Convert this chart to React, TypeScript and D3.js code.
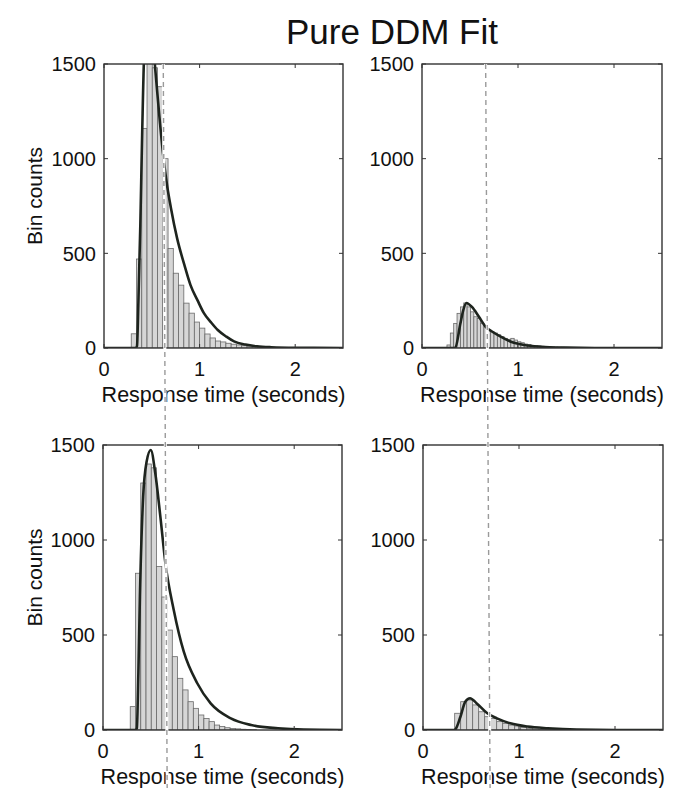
import React from 'react';
import * as d3 from 'd3';

const TITLE = 'Pure DDM Fit';
const X_TICKS = [0, 1, 2];
const Y_TICKS = [0, 500, 1000, 1500];
const X_LABEL = 'Response time (seconds)';
const Y_LABEL = 'Bin counts';
const X_DOMAIN = [0, 2.5];
const Y_DOMAIN = [0, 1500];

// Histogram bins (start, width) and counts per panel
const TL_BIN = { start: 0.285, width: 0.055 };
const TL_COUNTS = [75, 470, 1160, 1600, 1480, 1380, 1000, 526, 395, 332, 237, 184, 137, 105, 74, 53, 37, 32, 25, 20, 16, 12, 9, 7, 5, 4, 3, 2];
const BL_BIN = { start: 0.285, width: 0.055 };
const BL_COUNTS = [123, 825, 1300, 1400, 1380, 860, 700, 526, 386, 272, 211, 149, 114, 79, 61, 44, 26, 18, 12, 8, 6, 4, 3, 2];
const TR_BIN = { start: 0.26, width: 0.035 };
const TR_COUNTS = [16, 79, 130, 183, 217, 238, 217, 191, 165, 156, 130, 120, 95, 86, 79, 70, 60, 51, 46, 51, 42, 33, 28, 21, 18, 14, 12, 11, 9, 8, 6, 6, 5, 4, 4, 3, 3, 2, 2, 2, 1];
const BR_BIN = { start: 0.33, width: 0.0625 };
const BR_COUNTS = [88, 149, 158, 132, 96, 70, 61, 44, 35, 26, 21, 14, 9, 6, 4, 3, 2, 1];

// Fitted DDM curves: time (s) and counts
const TL_FIT_T = [0, 0.33, 0.345, 0.36, 0.38, 0.4, 0.42, 0.45, 0.48, 0.51, 0.54, 0.58, 0.62, 0.66, 0.7, 0.765, 0.84, 0.905, 0.98, 1.045, 1.12, 1.19, 1.28, 1.36, 1.48, 1.6, 1.75, 2.0, 2.5];
const TL_FIT_Y = [0, 0, 10, 250, 650, 1150, 1550, 1720, 1700, 1620, 1450, 1220, 1015, 858, 740, 579, 440, 332, 250, 184, 135, 95, 60, 35, 18, 9, 4, 1, 0];
const BL_FIT_T = [0, 0.34, 0.354, 0.37, 0.386, 0.42, 0.456, 0.5, 0.547, 0.6, 0.653, 0.74, 0.845, 0.986, 1.126, 1.337, 1.55, 1.83, 2.1, 2.5];
const BL_FIT_Y = [0, 0, 10, 300, 702, 1228, 1412, 1474, 1351, 1123, 877, 632, 412, 246, 140, 61, 26, 9, 2, 0];
const TR_FIT_T = [0, 0.33, 0.347, 0.4, 0.43, 0.463, 0.52, 0.593, 0.663, 0.733, 0.82, 0.926, 1.066, 1.24, 1.5, 1.8, 2.5];
const TR_FIT_Y = [0, 0, 2, 130, 200, 238, 217, 165, 112, 86, 60, 33, 16, 7, 2, 0, 0];
const BR_FIT_T = [0, 0.32, 0.334, 0.39, 0.44, 0.49, 0.56, 0.67, 0.77, 0.91, 1.09, 1.3, 1.6, 2.0, 2.5];
const BR_FIT_Y = [0, 0, 2, 70, 149, 167, 140, 88, 61, 35, 18, 9, 2, 0, 0];

// Dashed reference line positions (s): [top panel, bottom panel]
const LEFT_MARK = [0.62, 0.668];
const RIGHT_MARK = [0.663, 0.695];

type Box = { left: number; top: number; width: number; height: number };
const BOX_TL: Box = { left: 104, top: 64, width: 239, height: 284 };
const BOX_TR: Box = { left: 422, top: 64, width: 240, height: 284 };
const BOX_BL: Box = { left: 103, top: 445, width: 239, height: 285 };
const BOX_BR: Box = { left: 423, top: 445, width: 240, height: 285 };

const FONT = 'Liberation Sans, Arial, Helvetica, sans-serif';

function scales(b: Box) {
  const x = d3.scaleLinear().domain(X_DOMAIN).range([b.left, b.left + b.width]);
  const y = d3.scaleLinear().domain(Y_DOMAIN).range([b.top + b.height, b.top]);
  return { x, y };
}

function Panel({ id, box, bin, counts, fitT, fitY, showYLabel }: any) {
  const { x, y } = scales(box);
  const bottom = box.top + box.height;
  const line = d3
    .line<number>()
    .x((_, i) => x(fitT[i]))
    .y((d) => y(d))
    .curve(d3.curveMonotoneX);
  const cx = box.left + box.width / 2;
  return (
    <g>
      <defs>
        <clipPath id={id}>
          <rect x={box.left} y={box.top} width={box.width} height={box.height} />
        </clipPath>
      </defs>
      <g clipPath={`url(#${id})`}>
        {counts.map((c: number, i: number) => {
          const x0 = x(bin.start + i * bin.width);
          const x1 = x(bin.start + (i + 1) * bin.width);
          return (
            <rect key={i} x={x0} y={y(c)} width={x1 - x0} height={bottom - y(c)}
              fill="#d6d6d6" stroke="#6a6a6a" strokeWidth={0.8} />
          );
        })}
        <path d={line(fitY) || ''} fill="none" stroke="#1e241e" strokeWidth={2.6} strokeLinejoin="round" />
      </g>
      <rect x={box.left} y={box.top} width={box.width} height={box.height} fill="none" stroke="#333" strokeWidth={1.4} />
      {X_TICKS.map((t) => (
        <g key={'x' + t}>
          <line x1={x(t)} x2={x(t)} y1={bottom} y2={bottom - 4} stroke="#333" strokeWidth={1} />
          <line x1={x(t)} x2={x(t)} y1={box.top} y2={box.top + 4} stroke="#333" strokeWidth={1} />
          <text x={x(t)} y={bottom + 28} textAnchor="middle" fontSize={20} fontFamily={FONT} fill="#111">{t}</text>
        </g>
      ))}
      {Y_TICKS.map((t) => (
        <g key={'y' + t}>
          <line x1={box.left} x2={box.left + 4} y1={y(t)} y2={y(t)} stroke="#333" strokeWidth={1} />
          <line x1={box.left + box.width} x2={box.left + box.width - 4} y1={y(t)} y2={y(t)} stroke="#333" strokeWidth={1} />
          <text x={box.left - 8} y={y(t)} dy="0.36em" textAnchor="end" fontSize={20} fontFamily={FONT} fill="#111">{t}</text>
        </g>
      ))}
      <text x={cx} y={bottom + 54} textAnchor="middle" fontSize={21.5} fontFamily={FONT} fill="#111">{X_LABEL}</text>
      {showYLabel && (
        <text transform={`translate(42,${box.top + box.height / 2 - 10}) rotate(-90)`} textAnchor="middle"
          fontSize={21} fontFamily={FONT} fill="#111">{Y_LABEL}</text>
      )}
    </g>
  );
}

function MarkLine({ topBox, botBox, mark }: any) {
  const xt = scales(topBox).x(mark[0]);
  const xb = scales(botBox).x(mark[1]);
  const y0 = topBox.top;
  const yb = botBox.top + botBox.height;
  const yEnd = 788;
  const xEnd = xt + ((xb - xt) * (yEnd - y0)) / (yb - y0);
  return (
    <g>
      <line x1={xt} y1={y0} x2={xEnd} y2={yEnd} stroke="#fff" strokeWidth={3} />
      <line x1={xt} y1={y0} x2={xEnd} y2={yEnd} stroke="#9a9a9a" strokeWidth={1.4} strokeDasharray="5,4" />
    </g>
  );
}

export default function App() {
  return (
    <svg width={686} height={788} style={{ position: 'absolute', left: 0, top: 0, background: '#fff' }}>
      <rect width={686} height={788} fill="#fff" />
      <text x={392} y={44} textAnchor="middle" fontSize={35} fontFamily={FONT} fill="#111">{TITLE}</text>
      <Panel id="ctl" box={BOX_TL} bin={TL_BIN} counts={TL_COUNTS} fitT={TL_FIT_T} fitY={TL_FIT_Y} showYLabel />
      <Panel id="ctr" box={BOX_TR} bin={TR_BIN} counts={TR_COUNTS} fitT={TR_FIT_T} fitY={TR_FIT_Y} />
      <Panel id="cbl" box={BOX_BL} bin={BL_BIN} counts={BL_COUNTS} fitT={BL_FIT_T} fitY={BL_FIT_Y} showYLabel />
      <Panel id="cbr" box={BOX_BR} bin={BR_BIN} counts={BR_COUNTS} fitT={BR_FIT_T} fitY={BR_FIT_Y} />
      <MarkLine topBox={BOX_TL} botBox={BOX_BL} mark={LEFT_MARK} />
      <MarkLine topBox={BOX_TR} botBox={BOX_BR} mark={RIGHT_MARK} />
    </svg>
  );
}
